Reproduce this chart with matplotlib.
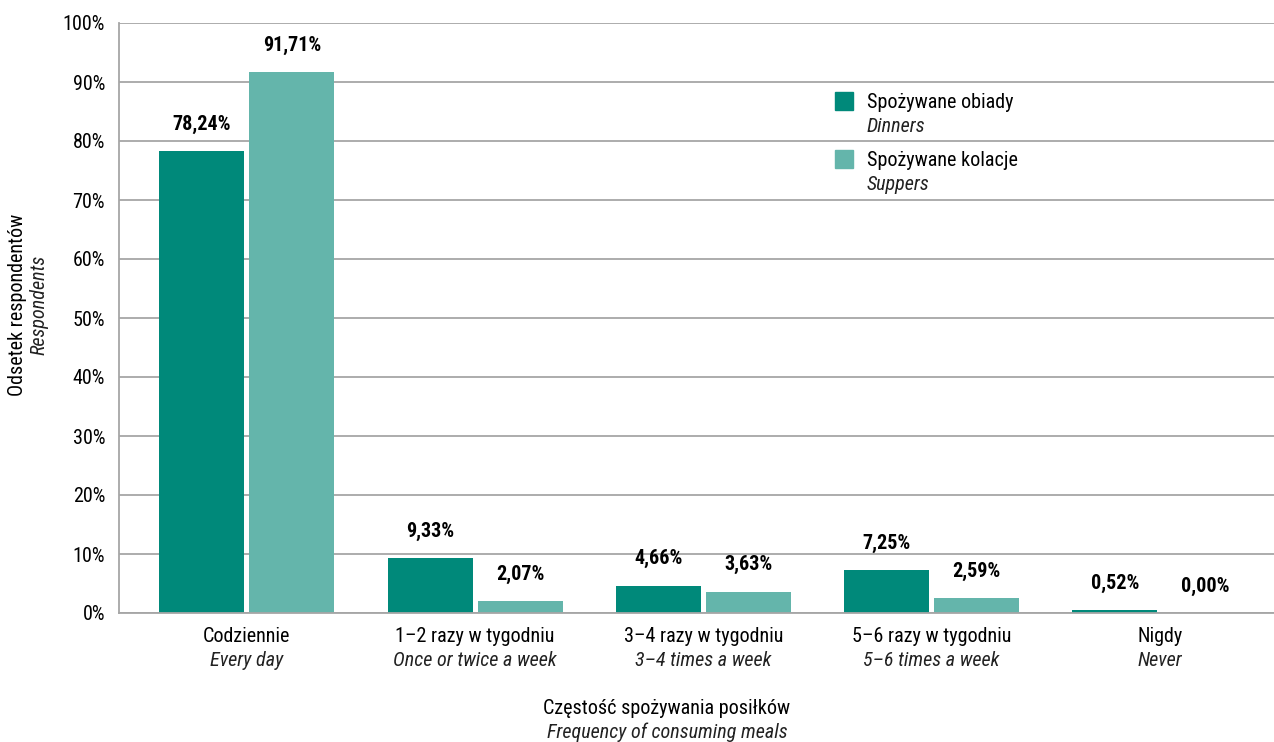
import numpy as np
import matplotlib
matplotlib.use('Agg')
from matplotlib import pyplot as plt
from matplotlib.patches import Rectangle

plt.rcParams['font.family'] = ['Roboto Condensed', 'DejaVu Sans']

categories_pl = ['Codziennie', '1–2 razy w tygodniu', '3–4 razy w tygodniu',
                 '5–6 razy w tygodniu', 'Nigdy']
categories_en = ['Every day', 'Once or twice a week', '3–4 times a week',
                 '5–6 times a week', 'Never']
dinners = [78.24, 9.33, 4.66, 7.25, 0.52]
suppers = [91.71, 2.07, 3.63, 2.59, 0.00]

dark = '#00897a'
light = '#64b5ab'
grid_col = '#a6a6a6'
fs = 14.5

fig = plt.figure(figsize=(12.74, 7.42), dpi=100)
W, H = 1274, 742
ax = fig.add_axes([119 / W, 1 - 613 / H, (W - 119) / W, (613 - 23) / H])

x = np.arange(len(categories_pl))
bw = 0.372
off = 0.197
ax.bar(x - off, dinners, bw, color=dark, zorder=3)
ax.bar(x + off, suppers, bw, color=light, zorder=3)

def fmt(v):
    return f'{v:.2f}'.replace('.', ',') + '%'

for xi, d, s in zip(x, dinners, suppers):
    ax.text(xi - off, d + 2.9, fmt(d), ha='center', va='bottom',
            fontsize=fs, fontweight='bold', zorder=4)
    ax.text(xi + off, s + 2.9, fmt(s), ha='center', va='bottom',
            fontsize=fs, fontweight='bold', zorder=4)

ax.set_ylim(0, 100)
ax.set_xlim(-0.56, 4.5)
ax.set_yticks(np.arange(0, 101, 10))
ax.set_yticklabels([f'{t}%' for t in range(0, 101, 10)], fontsize=fs)
ax.set_xticks([])
ax.tick_params(axis='y', length=0, pad=10)
ax.grid(axis='y', color=grid_col, linewidth=1.3, zorder=0)
for side in ['top', 'right']:
    ax.spines[side].set_visible(False)
for side in ['left', 'bottom']:
    ax.spines[side].set_color(grid_col)
    ax.spines[side].set_linewidth(1.3)
ax.spines['bottom'].set_zorder(5)

# category labels, Polish over English
for xi, pl, en in zip(x, categories_pl, categories_en):
    ax.text(xi, -3.9, pl, ha='center', va='center', fontsize=fs, clip_on=False)
    ax.text(xi, -8.0, en, ha='center', va='center', fontsize=fs,
            style='italic', color='#222222', clip_on=False)

# axis titles
fig.text(667 / W, 1 - 708 / H, 'Częstość spożywania posiłków', ha='center',
         va='center', fontsize=fs)
fig.text(667 / W, 1 - 732 / H, 'Frequency of consuming meals', ha='center',
         va='center', fontsize=fs, style='italic', color='#222222')
fig.text(18 / W, 1 - 305 / H, 'Odsetek respondentów', ha='center',
         va='center', fontsize=fs, rotation=90)
fig.text(39 / W, 1 - 305 / H, 'Respondents', ha='center',
         va='center', fontsize=fs, rotation=90, style='italic', color='#222222')

# legend
for ytop, col, pl, en in [(92, dark, 'Spożywane obiady', 'Dinners'),
                          (150, light, 'Spożywane kolacje', 'Suppers')]:
    fig.patches.append(Rectangle((835 / W, 1 - (ytop + 18) / H), 18 / W, 18 / H,
                                 color=col, transform=fig.transFigure))
    fig.text(867 / W, 1 - (ytop + 10) / H, pl, ha='left', va='center', fontsize=fs)
    fig.text(867 / W, 1 - (ytop + 34) / H, en, ha='left', va='center',
             fontsize=fs, style='italic', color='#222222')

fig.savefig('out.png', dpi=100)
